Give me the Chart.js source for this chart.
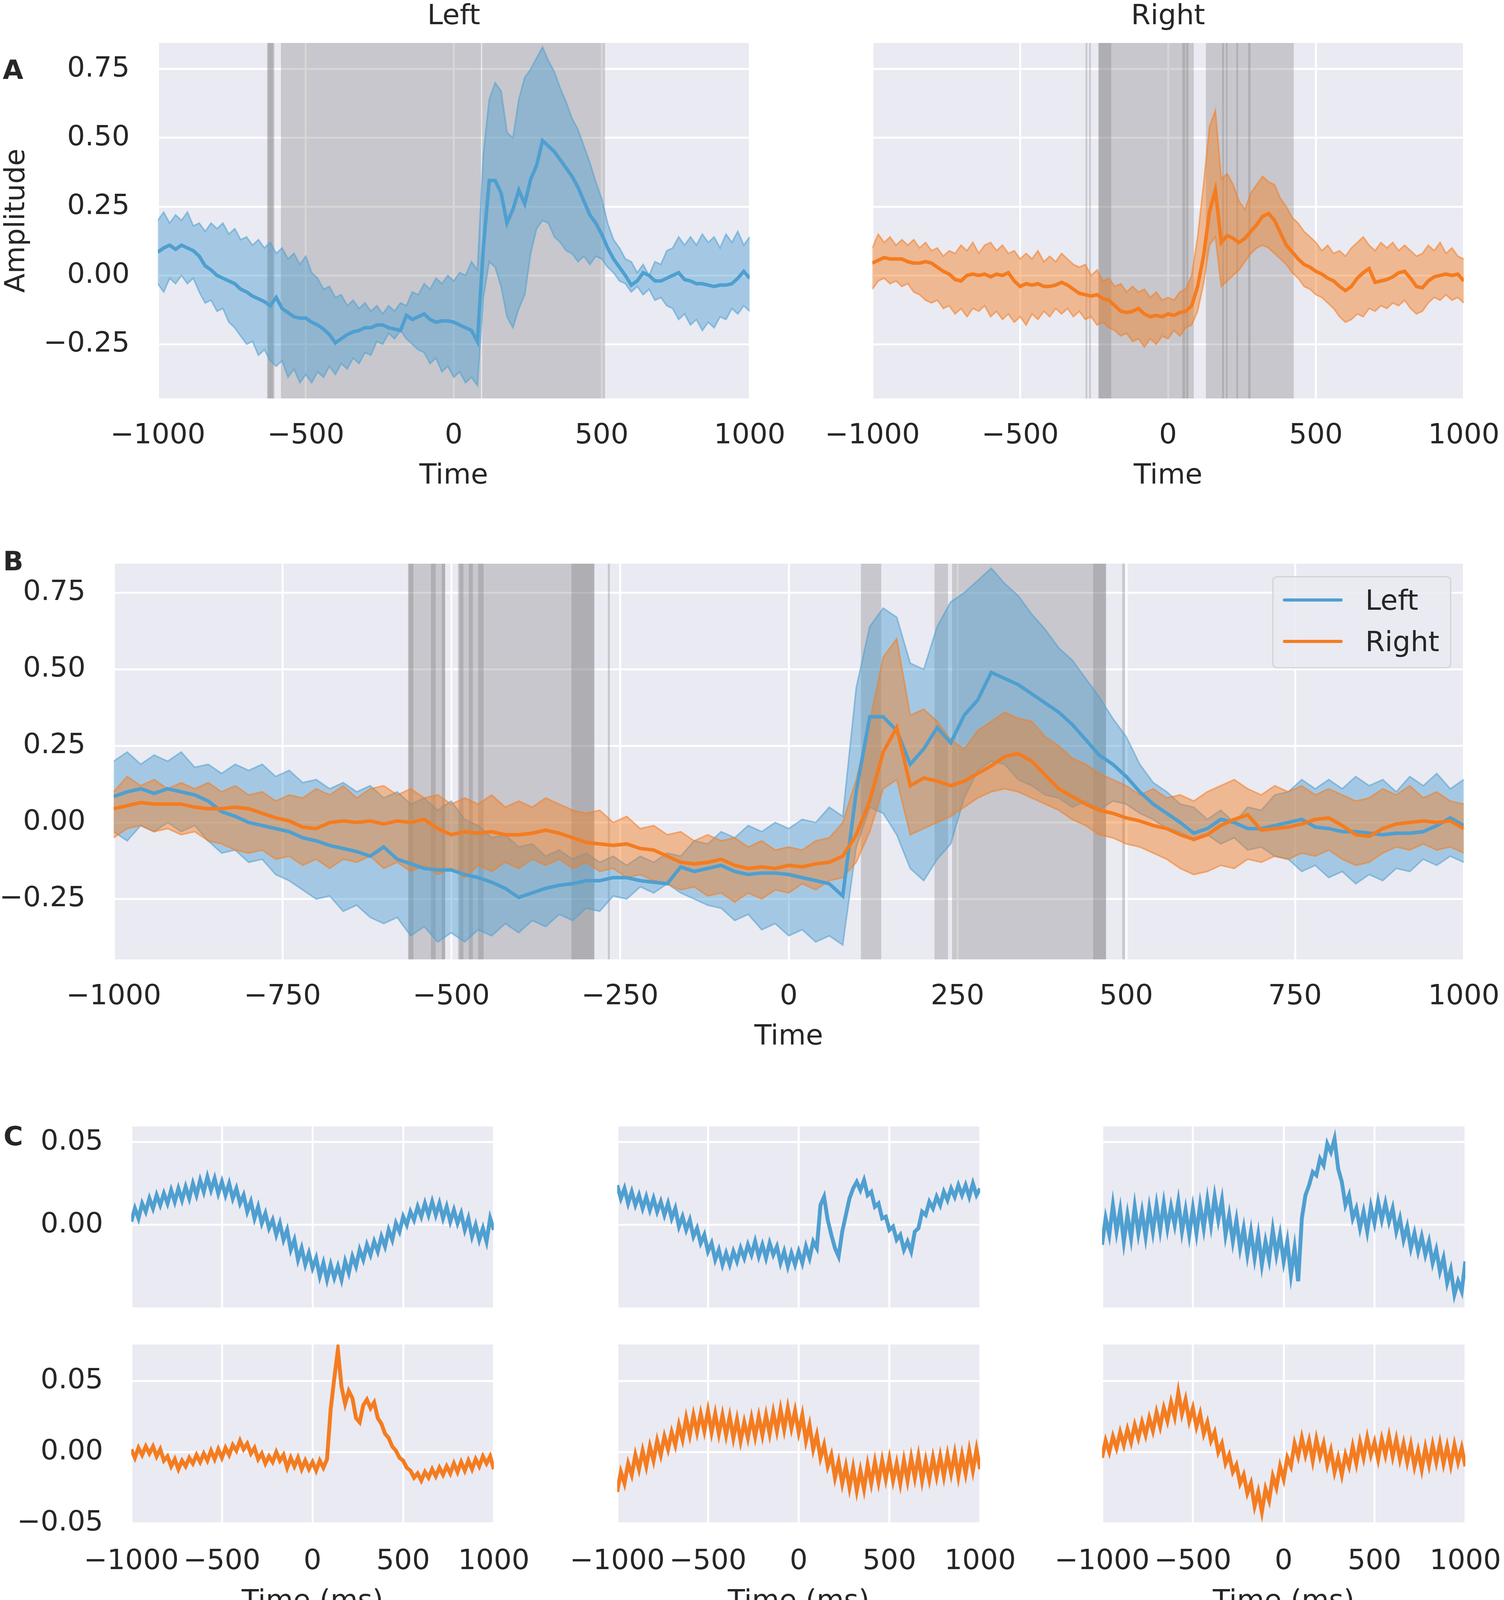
<!DOCTYPE html>
<html>
<head>
<meta charset="utf-8">
<script src="https://cdn.jsdelivr.net/npm/chart.js@4.4.1/dist/chart.umd.min.js"></script>
<style>
html, body { margin: 0; padding: 0; background: #fff; width: 3850px; height: 4149px; overflow: hidden; position: relative; font-family: 'DejaVu Sans', sans-serif; color: #262626; }
canvas { position: absolute; }
.tag { position: absolute; font-weight: bold; font-size: 68px; line-height: 68px; }
#legendB { position: absolute; left: 3257px; top: 1475px; width: 458px; height: 236px; box-sizing: border-box; border: 3px solid #d2d2d6; border-radius: 12px; background: rgba(234,234,242,0.85); }
#legendB .sw { position: absolute; left: 24px; width: 153px; height: 8px; border-radius: 4px; }
#legendB .lb { position: absolute; left: 235px; font-size: 72px; line-height: 86px; }
</style>
</head>
<body>
<div class="tag" style="left:7px;top:145px">A</div>
<div class="tag" style="left:8px;top:1403px">B</div>
<div class="tag" style="left:9px;top:2875px">C</div>
<div id="legendB"></div>

<script>
// sampling grid (ms)
var timeMs = [
  -1000, -980, -960, -940, -920, -900, -880, -860, -840, -820,
  -800, -780, -760, -740, -720, -700, -680, -660, -640, -620,
  -600, -580, -560, -540, -520, -500, -480, -460, -440, -420,
  -400, -380, -360, -340, -320, -300, -280, -260, -240, -220,
  -200, -180, -160, -140, -120, -100, -80, -60, -40, -20,
  0, 20, 40, 60, 80, 100, 120, 140, 160, 180,
  200, 220, 240, 260, 280, 300, 320, 340, 360, 380,
  400, 420, 440, 460, 480, 500, 520, 540, 560, 580,
  600, 620, 640, 660, 680, 700, 720, 740, 760, 780,
  800, 820, 840, 860, 880, 900, 920, 940, 960, 980,
  1000
];

// Left condition: mean and band
var leftMean = [
  0.085, 0.10, 0.11, 0.095, 0.11, 0.10, 0.09, 0.07, 0.035, 0.02,
  0.0, -0.01, -0.02, -0.03, -0.05, -0.06, -0.075, -0.085, -0.095, -0.11,
  -0.08, -0.12, -0.135, -0.15, -0.155, -0.155, -0.17, -0.18, -0.195, -0.215,
  -0.245, -0.23, -0.215, -0.205, -0.2, -0.19, -0.19, -0.18, -0.18, -0.19,
  -0.195, -0.2, -0.145, -0.16, -0.15, -0.14, -0.16, -0.17, -0.165, -0.165,
  -0.17, -0.18, -0.19, -0.2, -0.24, 0.10, 0.345, 0.345, 0.30, 0.19,
  0.24, 0.31, 0.26, 0.35, 0.40, 0.49, 0.47, 0.45, 0.42, 0.39,
  0.36, 0.32, 0.27, 0.22, 0.19, 0.15, 0.10, 0.06, 0.03, 0.0,
  -0.035, -0.02, 0.01, 0.0, -0.02, -0.02, -0.01, 0.0, 0.01, -0.015,
  -0.02, -0.03, -0.03, -0.035, -0.04, -0.035, -0.035, -0.03, -0.01, 0.015,
  -0.01
];
var leftUpper = [
  0.20, 0.23, 0.19, 0.22, 0.20, 0.23, 0.18, 0.19, 0.16, 0.19,
  0.17, 0.19, 0.15, 0.17, 0.13, 0.14, 0.11, 0.13, 0.10, 0.12,
  0.08, 0.10, 0.06, 0.08, 0.04, 0.07, 0.01, -0.01, -0.05, -0.04,
  -0.08, -0.07, -0.11, -0.09, -0.12, -0.10, -0.13, -0.11, -0.14, -0.11,
  -0.13, -0.10, -0.11, -0.06, -0.07, -0.03, -0.05, -0.01, -0.03, 0.0,
  -0.02, 0.01, 0.0, 0.05, 0.02, 0.44, 0.64, 0.70, 0.67, 0.52,
  0.50, 0.64, 0.72, 0.75, 0.79, 0.83, 0.78, 0.74, 0.68, 0.63,
  0.57, 0.53, 0.47, 0.41, 0.34, 0.28, 0.19, 0.13, 0.10, 0.06,
  0.05, 0.01, 0.04, 0.00, 0.05, 0.04, 0.09, 0.10, 0.14, 0.11,
  0.14, 0.11, 0.15, 0.12, 0.14, 0.10, 0.15, 0.12, 0.16, 0.11,
  0.14
];
var leftLower = [
  -0.03, -0.06, -0.01, -0.03, 0.0, -0.03, -0.01, -0.06, -0.10, -0.09,
  -0.13, -0.12, -0.17, -0.19, -0.22, -0.25, -0.24, -0.29, -0.27, -0.31,
  -0.33, -0.31, -0.37, -0.34, -0.39, -0.36, -0.39, -0.35, -0.37, -0.33,
  -0.36, -0.32, -0.34, -0.30, -0.32, -0.28, -0.29, -0.24, -0.25, -0.21,
  -0.23, -0.20, -0.23, -0.25, -0.27, -0.28, -0.32, -0.30, -0.35, -0.33,
  -0.37, -0.35, -0.39, -0.37, -0.40, -0.08, 0.05, 0.03, -0.04, -0.15,
  -0.19, -0.12, -0.07, 0.08, 0.17, 0.20, 0.19, 0.14, 0.12, 0.09,
  0.08, 0.05, 0.07, 0.04, 0.07, 0.06, 0.03, 0.01, -0.02, -0.03,
  -0.06, -0.04, -0.07, -0.05, -0.09, -0.08, -0.11, -0.12, -0.16, -0.14,
  -0.18, -0.16, -0.20, -0.17, -0.19, -0.15, -0.16, -0.12, -0.14, -0.11,
  -0.13
];

// Right condition: mean and band
var rightMean = [
  0.045, 0.055, 0.065, 0.06, 0.06, 0.06, 0.05, 0.045, 0.045, 0.05,
  0.045, 0.03, 0.015, 0.005, -0.015, -0.02, 0.0, 0.005, 0.0, 0.005,
  -0.005, 0.005, 0.0, 0.01, -0.02, -0.04, -0.03, -0.035, -0.03, -0.04,
  -0.04, -0.035, -0.025, -0.035, -0.05, -0.065, -0.07, -0.075, -0.07, -0.085,
  -0.09, -0.11, -0.13, -0.135, -0.13, -0.12, -0.14, -0.15, -0.145, -0.15,
  -0.14, -0.145, -0.135, -0.13, -0.11, -0.04, 0.07, 0.23, 0.31, 0.12,
  0.145, 0.135, 0.12, 0.135, 0.16, 0.185, 0.215, 0.225, 0.20, 0.155,
  0.11, 0.085, 0.06, 0.04, 0.03, 0.015, 0.005, -0.01, -0.02, -0.04,
  -0.055, -0.04, -0.01, 0.01, 0.025, -0.025, -0.02, -0.015, -0.005, 0.01,
  0.015, -0.01, -0.04, -0.045, -0.02, -0.005, 0.0, 0.005, 0.0, 0.005,
  -0.02
];
var rightUpper = [
  0.10, 0.15, 0.12, 0.14, 0.11, 0.13, 0.11, 0.13, 0.10, 0.12,
  0.09, 0.10, 0.07, 0.09, 0.08, 0.11, 0.09, 0.12, 0.08, 0.11,
  0.12, 0.09, 0.11, 0.08, 0.09, 0.06, 0.08, 0.06, 0.09, 0.05,
  0.07, 0.05, 0.08, 0.06, 0.04, 0.03, 0.04, 0.0, 0.02, -0.02,
  -0.01, -0.04, -0.03, -0.06, -0.04, -0.06, -0.05, -0.08, -0.06, -0.09,
  -0.08, -0.09, -0.06, -0.05, 0.0, 0.14, 0.33, 0.54, 0.60, 0.35,
  0.37, 0.33, 0.27, 0.24, 0.30, 0.33, 0.36, 0.34, 0.33, 0.28,
  0.25, 0.21, 0.19, 0.16, 0.14, 0.12, 0.09, 0.11, 0.08, 0.09,
  0.07, 0.10, 0.12, 0.14, 0.11, 0.09, 0.12, 0.10, 0.12, 0.09,
  0.11, 0.09, 0.07, 0.08, 0.11, 0.09, 0.12, 0.08, 0.10, 0.07,
  0.06
];
var rightLower = [
  -0.05, -0.02, -0.01, -0.03, -0.02, -0.04, -0.03, -0.06, -0.07, -0.09,
  -0.10, -0.09, -0.12, -0.11, -0.14, -0.12, -0.15, -0.12, -0.13, -0.11,
  -0.15, -0.13, -0.16, -0.14, -0.17, -0.15, -0.18, -0.14, -0.16, -0.13,
  -0.15, -0.12, -0.14, -0.12, -0.15, -0.13, -0.16, -0.15, -0.18, -0.17,
  -0.19, -0.20, -0.22, -0.21, -0.24, -0.23, -0.26, -0.23, -0.25, -0.22,
  -0.23, -0.20, -0.22, -0.19, -0.18, -0.13, -0.03, 0.11, 0.14, -0.04,
  -0.02, 0.0, 0.02, 0.05, 0.08, 0.10, 0.11, 0.10, 0.08, 0.06,
  0.04, 0.01, -0.01, -0.04, -0.05, -0.07, -0.08, -0.10, -0.12, -0.15,
  -0.17, -0.16, -0.14, -0.15, -0.12, -0.13, -0.11, -0.12, -0.10, -0.11,
  -0.09, -0.12, -0.14, -0.13, -0.10, -0.08, -0.09, -0.07, -0.09, -0.08,
  -0.10
];

// Panel C: single traces (top row Left / blue, bottom row Right / orange)
var cTopLeft = [
  0.002, 0.010, 0.004, 0.013, 0.008, 0.016, 0.010, 0.018, 0.012, 0.019,
  0.013, 0.021, 0.014, 0.022, 0.015, 0.023, 0.016, 0.025, 0.018, 0.027,
  0.020, 0.029, 0.021, 0.028, 0.019, 0.026, 0.018, 0.025, 0.016, 0.022,
  0.013, 0.018, 0.008, 0.014, 0.004, 0.011, 0.001, 0.007, -0.002, 0.003,
  -0.006, 0.001, -0.009, -0.003, -0.015, -0.009, -0.021, -0.014, -0.024, -0.017,
  -0.026, -0.020, -0.031, -0.023, -0.033, -0.024, -0.032, -0.025, -0.033, -0.022,
  -0.029, -0.019, -0.025, -0.015, -0.021, -0.012, -0.018, -0.010, -0.016, -0.007,
  -0.013, -0.003, -0.009, 0.001, -0.004, 0.005, 0.0, 0.008, 0.003, 0.011,
  0.005, 0.013, 0.006, 0.014, 0.006, 0.013, 0.004, 0.011, 0.002, 0.009,
  0.001, 0.007, -0.003, 0.004, -0.007, 0.0, -0.009, -0.002, -0.010, 0.004,
  -0.003
];
var cTopMid = [
  0.024, 0.016, 0.022, 0.013, 0.020, 0.012, 0.018, 0.010, 0.017, 0.009,
  0.016, 0.008, 0.014, 0.006, 0.013, 0.004, 0.010, -0.001, 0.005, -0.003,
  0.003, -0.007, -0.002, -0.011, -0.006, -0.016, -0.011, -0.021, -0.015, -0.024,
  -0.017, -0.024, -0.016, -0.022, -0.014, -0.020, -0.012, -0.018, -0.010, -0.019,
  -0.012, -0.020, -0.011, -0.018, -0.013, -0.023, -0.016, -0.025, -0.017, -0.024,
  -0.016, -0.023, -0.013, -0.020, -0.010, -0.014, 0.012, 0.017, 0.003, -0.006,
  -0.014, -0.019, -0.004, 0.006, 0.016, 0.022, 0.026, 0.021, 0.027, 0.018,
  0.020, 0.011, 0.013, 0.004, 0.005, -0.003, -0.001, -0.009, -0.006, -0.015,
  -0.010, -0.016, -0.004, -0.002, 0.008, 0.006, 0.014, 0.010, 0.017, 0.012,
  0.020, 0.015, 0.022, 0.017, 0.024, 0.018, 0.024, 0.017, 0.025, 0.018,
  0.022
];
var cTopRight = [
  -0.012, 0.004, -0.006, 0.012, -0.004, 0.009, -0.010, 0.006, -0.008, 0.011,
  -0.005, 0.008, -0.007, 0.010, -0.004, 0.012, -0.003, 0.013, -0.002, 0.011,
  0.0, 0.014, -0.004, 0.009, -0.006, 0.010, -0.005, 0.012, -0.002, 0.015,
  0.0, 0.017, 0.003, 0.015, -0.006, 0.006, -0.010, 0.003, -0.014, -0.002,
  -0.018, -0.004, -0.020, -0.006, -0.024, -0.010, -0.021, -0.003, -0.018, -0.006,
  -0.022, -0.010, -0.030, -0.014, -0.034, 0.004, 0.018, 0.024, 0.032, 0.030,
  0.040, 0.036, 0.049, 0.044, 0.052, 0.034, 0.026, 0.012, 0.018, 0.004,
  0.010, -0.002, 0.008, -0.004, 0.011, 0.001, 0.014, 0.003, 0.013, 0.002,
  0.010, -0.004, 0.004, -0.009, -0.001, -0.014, -0.005, -0.016, -0.007, -0.018,
  -0.010, -0.023, -0.015, -0.028, -0.020, -0.035, -0.027, -0.042, -0.034, -0.040,
  -0.022
];
var cBotLeft = [
  0.002, -0.004, 0.003, -0.002, 0.004, -0.001, 0.004, -0.003, 0.002, -0.006,
  -0.003, -0.010, -0.005, -0.012, -0.006, -0.010, -0.004, -0.008, -0.002, -0.007,
  -0.001, -0.006, 0.001, -0.005, 0.002, -0.004, 0.003, -0.002, 0.005, 0.001,
  0.008, 0.002, 0.006, -0.001, 0.003, -0.005, -0.001, -0.008, -0.003, -0.007,
  0.0, -0.006, -0.002, -0.011, -0.004, -0.010, -0.004, -0.012, -0.006, -0.012,
  -0.007, -0.013, -0.006, -0.011, -0.005, 0.030, 0.052, 0.072, 0.046, 0.034,
  0.043, 0.038, 0.024, 0.021, 0.033, 0.037, 0.031, 0.035, 0.024, 0.020,
  0.013, 0.010, 0.004, 0.001, -0.004, -0.006, -0.011, -0.013, -0.018, -0.015,
  -0.020, -0.014, -0.018, -0.012, -0.017, -0.011, -0.016, -0.010, -0.015, -0.008,
  -0.014, -0.007, -0.013, -0.006, -0.012, -0.005, -0.010, -0.003, -0.008, -0.003,
  -0.012
];
var cBotMid = [
  -0.028, -0.014, -0.022, -0.008, -0.016, -0.002, -0.012, 0.001, -0.010, 0.004,
  -0.006, 0.008, -0.002, 0.011, 0.002, 0.014, 0.005, 0.019, 0.009, 0.024,
  0.012, 0.026, 0.014, 0.027, 0.015, 0.029, 0.014, 0.027, 0.013, 0.026,
  0.012, 0.025, 0.010, 0.023, 0.008, 0.021, 0.010, 0.024, 0.011, 0.025,
  0.012, 0.026, 0.013, 0.028, 0.015, 0.030, 0.016, 0.031, 0.017, 0.029,
  0.014, 0.026, 0.008, 0.019, 0.002, 0.012, -0.004, 0.005, -0.010, -0.002,
  -0.018, -0.007, -0.022, -0.010, -0.025, -0.011, -0.027, -0.013, -0.026, -0.009,
  -0.022, -0.007, -0.021, -0.006, -0.019, -0.005, -0.020, -0.008, -0.022, -0.006,
  -0.020, -0.004, -0.018, -0.003, -0.020, -0.006, -0.019, -0.004, -0.017, -0.003,
  -0.017, -0.002, -0.015, -0.001, -0.017, -0.002, -0.015, 0.001, -0.013, 0.002,
  -0.012
];
var cBotRight = [
  -0.004, 0.008, 0.0, 0.011, 0.003, 0.014, 0.005, 0.016, 0.007, 0.019,
  0.010, 0.021, 0.012, 0.024, 0.015, 0.028, 0.018, 0.031, 0.022, 0.035,
  0.025, 0.042, 0.027, 0.037, 0.022, 0.031, 0.018, 0.027, 0.013, 0.021,
  0.008, 0.014, 0.0, 0.006, -0.008, -0.002, -0.014, -0.009, -0.022, -0.016,
  -0.029, -0.022, -0.038, -0.028, -0.042, -0.026, -0.034, -0.017, -0.025, -0.010,
  -0.019, -0.004, -0.010, 0.006, -0.003, 0.010, -0.002, 0.008, -0.006, 0.009,
  -0.003, 0.006, -0.009, 0.001, -0.014, -0.004, -0.016, -0.002, -0.010, 0.004,
  -0.008, 0.007, -0.004, 0.010, -0.002, 0.007, -0.005, 0.009, -0.002, 0.011,
  -0.003, 0.009, -0.005, 0.006, -0.007, 0.005, -0.010, 0.001, -0.012, 0.003,
  -0.009, 0.005, -0.007, 0.006, -0.008, 0.004, -0.009, 0.005, -0.007, 0.003,
  -0.010
];

// significant time windows [start, end] in ms (overlaps give the darker strips)
var sigLeftA = [[-631, -606], [-628, -610], [-584, 92], [96, 511]];
var sigRightA = [[-279, -273], [-267, -261], [-236, 87], [-234, -192], [48, 58], [61, 69],
                 [128, 425], [183, 189], [196, 201], [231, 237], [271, 279]];
var sigLeftVsRight = [[-564, -509], [-563, -556], [-530, -523], [-514, -509],
                      [-490, -288], [-488, -482], [-474, -468], [-460, -452], [-322, -288],
                      [-268, -265], [107, 137], [216, 236], [242, 470], [451, 470], [494, 498]];

// tick values
var xTicksA = [-1000, -500, 0, 500, 1000];
var xTicksB = [-1000, -750, -500, -250, 0, 250, 500, 750, 1000];
var yTicksAB = [-0.25, 0, 0.25, 0.5, 0.75];
var yTicksCTop = [0, 0.05];
var yTicksCBottom = [-0.05, 0, 0.05];

var seriesNames = ['Left', 'Right'];
var blue = '#4f9fd0', orange = '#f47c20';
var blueFill = 'rgba(79,159,208,0.45)', blueEdge = 'rgba(79,159,208,0.55)';
var orangeFill = 'rgba(244,124,32,0.45)', orangeEdge = 'rgba(244,124,32,0.55)';

Chart.defaults.font.family = "'DejaVu Sans', sans-serif";
Chart.defaults.font.size = 72;
Chart.defaults.color = '#262626';
Chart.defaults.animation = false;
Chart.defaults.events = [];
Chart.defaults.elements.point.radius = 0;
Chart.defaults.elements.line.tension = 0;
Chart.defaults.plugins.legend.display = false;
Chart.defaults.plugins.tooltip.enabled = false;

// plot area background
Chart.register({
    id: 'panelBackground',
    beforeDraw: function (chart) {
        var a = chart.chartArea, ctx = chart.ctx;
        ctx.save();
        ctx.fillStyle = '#eaeaf2';
        ctx.fillRect(a.left, a.top, a.right - a.left, a.bottom - a.top);
        ctx.restore();
    }
});

function spanPlugin(spans) {
    return {
        id: 'sigSpans',
        beforeDatasetsDraw: function (chart) {
            var a = chart.chartArea, ctx = chart.ctx, x = chart.scales.x;
            ctx.save();
            ctx.fillStyle = 'rgba(120,120,120,0.3)';
            spans.forEach(function (s) {
                var x0 = x.getPixelForValue(s[0]), x1 = x.getPixelForValue(s[1]);
                ctx.fillRect(x0, a.top, x1 - x0, a.bottom - a.top);
            });
            ctx.restore();
        }
    };
}

function pts(ys) {
    return timeMs.map(function (t, i) { return {x: t, y: ys[i]}; });
}
function minus(s) { return s.replace('-', '\u2212'); }

// lower order = drawn on top
function band(lo, hi, mean, line, edge, fill, bandOrder, lineOrder) {
    return [
        {data: pts(lo), borderColor: edge, borderWidth: 4, fill: false, order: bandOrder},
        {data: pts(hi), borderColor: edge, borderWidth: 4, fill: '-1', backgroundColor: fill, order: bandOrder},
        {data: pts(mean), borderColor: line, borderWidth: 9, fill: false, order: lineOrder}
    ];
}

function xAxis(ticks, showLabels, title, height) {
    return {
        type: 'linear', min: -1000, max: 1000,
        afterBuildTicks: function (s) { s.ticks = ticks.map(function (v) { return {value: v}; }); },
        afterFit: function (s) { s.height = height; },
        grid: {color: '#ffffff', lineWidth: 5, drawTicks: false},
        border: {display: false},
        ticks: {display: showLabels, padding: 53, maxRotation: 0, autoSkip: false,
                callback: function (v) { return minus(String(v)); }},
        title: {display: !!title, text: title || '', padding: 0}
    };
}
function yAxis(ticks, min, max, showLabels, width, title) {
    return {
        type: 'linear', min: min, max: max,
        afterBuildTicks: function (s) { s.ticks = ticks.map(function (v) { return {value: v}; }); },
        afterFit: function (s) { s.width = width; },
        grid: {color: '#ffffff', lineWidth: 5, drawTicks: false},
        border: {display: false},
        ticks: {display: showLabels, padding: 72,
                callback: function (v) { return minus(Number(v).toFixed(2)); }},
        title: {display: !!title, text: title || '', padding: 0}
    };
}

// area = wanted plot rectangle; yw = room for the y axis; top/bottom = room above/below
function panel(area, yw, top, bottom, datasets, scales, opts) {
    var right = 150;
    var box = {x: area.l - yw, y: area.t - top, w: yw + (area.r - area.l) + right, h: top + (area.b - area.t) + bottom};
    var c = document.createElement('canvas');
    c.width = box.w; c.height = box.h;
    c.style.left = box.x + 'px'; c.style.top = box.y + 'px';
    c.style.width = box.w + 'px'; c.style.height = box.h + 'px';
    document.body.insertBefore(c, document.getElementById('legendB'));
    var padTop = opts.title ? top - 110 : top;
    return new Chart(c, {
        type: 'line',
        data: {datasets: datasets},
        options: {
            responsive: false,
            devicePixelRatio: 1,
            layout: {padding: {left: 0, top: padTop, right: right, bottom: 0}},
            scales: scales,
            plugins: {
                title: {display: !!opts.title, text: opts.title || '', color: '#262626', fullSize: false,
                        font: {size: 72, weight: 'normal'}, padding: {top: 0, bottom: 23.6}}
            }
        },
        plugins: [spanPlugin(opts.spans || [])]
    });
}

var Y_MIN = -0.447, Y_MAX = 0.845;

// A: Left
panel({l: 404, t: 110, r: 1919, b: 1020}, 404, 120, 242,
    band(leftLower, leftUpper, leftMean, blue, blueEdge, blueFill, 1, 0),
    {x: xAxis(xTicksA, true, 'Time', 242), y: yAxis(yTicksAB, Y_MIN, Y_MAX, true, 404, 'Amplitude')},
    {title: 'Left', spans: sigLeftA});

// A: Right
panel({l: 2233, t: 110, r: 3747, b: 1020}, 200, 120, 242,
    band(rightLower, rightUpper, rightMean, orange, orangeEdge, orangeFill, 1, 0),
    {x: xAxis(xTicksA, true, 'Time', 242), y: yAxis(yTicksAB, Y_MIN, Y_MAX, false, 200)},
    {title: 'Right', spans: sigRightA});

// B: both conditions (bands below, Right mean on top)
panel({l: 291, t: 1443, r: 3747, b: 2456}, 291, 120, 242,
    band(leftLower, leftUpper, leftMean, blue, blueEdge, blueFill, 3, 1)
        .concat(band(rightLower, rightUpper, rightMean, orange, orangeEdge, orangeFill, 2, 0)),
    {x: xAxis(xTicksB, true, 'Time', 242), y: yAxis(yTicksAB, Y_MIN, Y_MAX, true, 291)},
    {spans: sigLeftVsRight});

// C: components
var cTop = [cTopLeft, cTopMid, cTopRight];
var cBottom = [cBotLeft, cBotMid, cBotRight];
var cCols = [{l: 336, r: 1264, yw: 336}, {l: 1580, r: 2509, yw: 200}, {l: 2821, r: 3751, yw: 200}];

cCols.forEach(function (col, i) {
    panel({l: col.l, t: 2884, r: col.r, b: 3347}, col.yw, 120, 120,
        [{data: pts(cTop[i]), borderColor: blue, borderWidth: 10, fill: false}],
        {x: xAxis(xTicksA, false, '', 120), y: yAxis(yTicksCTop, -0.0498, 0.0594, i === 0, col.yw)},
        {});
    panel({l: col.l, t: 3442, r: col.r, b: 3902}, col.yw, 120, 242,
        [{data: pts(cBottom[i]), borderColor: orange, borderWidth: 10, fill: false}],
        {x: xAxis(xTicksA, true, 'Time (ms)', 242), y: yAxis(yTicksCBottom, -0.0508, 0.0758, i === 0, col.yw)},
        {});
});

// legend of panel B
var lg = document.getElementById('legendB');
[blue, orange].forEach(function (col, i) {
    var sw = document.createElement('div');
    sw.className = 'sw';
    sw.style.top = (54 + i * 106) + 'px';
    sw.style.background = col;
    lg.appendChild(sw);
    var lb = document.createElement('div');
    lb.className = 'lb';
    lb.style.top = (15 + i * 106) + 'px';
    lb.textContent = seriesNames[i];
    lg.appendChild(lb);
});
</script>
</body>
</html>
